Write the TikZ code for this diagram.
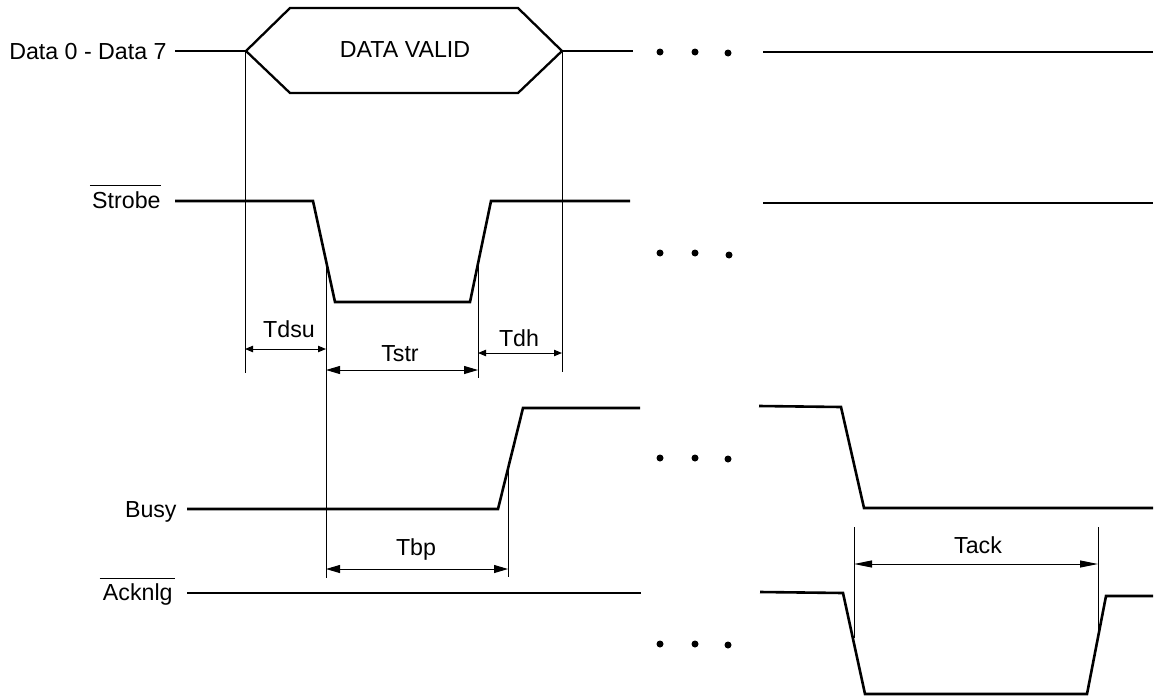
\documentclass[tikz,border=0pt]{standalone}
\usepackage{fontspec}
\setmainfont{Liberation Sans}
\usetikzlibrary{arrows.meta}
\begin{document}
\begin{tikzpicture}[x=0.5pt,y=-0.5pt,
  sig/.style={line width=1.3pt,line join=miter,line cap=butt},
  hexa/.style={line width=1.15pt,line join=miter},
  guide/.style={line width=0.5pt},
  lbl/.style={inner sep=0pt,font=\fontsize{11.6}{14}\selectfont},
  dimbig/.style={guide,{Triangle[length=7pt,width=4pt]}-{Triangle[length=7pt,width=4pt]}},
  dimsmall/.style={guide,{Triangle[length=4pt,width=3.2pt]}-{Triangle[length=4pt,width=3.2pt]}},
  dimlong/.style={guide,{Triangle[length=9pt,width=3.5pt]}-{Triangle[length=9pt,width=3.5pt]}},
  dotmark/.style={circle,fill=black,inner sep=0pt,minimum size=3.5pt}]
\useasboundingbox (0,0) rectangle (1155,696);

% ---- labels ----
\node[lbl,anchor=base east] (ldata) at (167,59) {Data 0 - Data 7};
\node[lbl,anchor=base east] (lstrobe) at (161,208) {Strobe};
\node[lbl,anchor=base east] (lbusy) at (177,517) {Busy};
\node[lbl,anchor=base east] (lack) at (173,600) {Acknlg};
\draw[guide] ([shift={(-1pt,2.4pt)}]lstrobe.north west) -- ([shift={(0pt,2.4pt)}]lstrobe.north east);
\draw[guide] ([shift={(-1.5pt,2pt)}]lack.north west) -- ([shift={(1pt,2pt)}]lack.north east);

% ---- Data ----
\draw[sig] (175,51) -- (246,51);
\draw[hexa] (246,51) -- (290,8) -- (518,8) -- (562,51) -- (518,93) -- (290,93) -- cycle;
\node[lbl,anchor=base] (dv) at (405,57) {DATA VALID};
\draw[sig] (562,51) -- (633,51);
\draw[sig] (763,52) -- (1153,52);
\node[dotmark] (dd1) at (660,52) {};
\node[dotmark] (dd2) at (695,52) {};
\node[dotmark] (dd3) at (728,53) {};

% ---- Strobe ----
\draw[sig] (175,201) -- (313,201) -- (335,302) -- (470,302) -- (491,201) -- (630,201);
\draw[sig] (763,203) -- (1153,203);
\node[dotmark] (sd1) at (660,253) {};
\node[dotmark] (sd2) at (695,253) {};
\node[dotmark] (sd3) at (729,255) {};

% ---- Busy ----
\draw[sig] (187,509) -- (498,509) -- (523,408) -- (640,408);
\draw[sig] (759,406) -- (841,407) -- (864,508) -- (1153,508);
\node[dotmark] (bd1) at (660,458) {};
\node[dotmark] (bd2) at (695,458) {};
\node[dotmark] (bd3) at (728,459) {};

% ---- Acknlg ----
\draw[sig] (187,593) -- (641,593);
\draw[sig] (760,592) -- (843,593) -- (865,694) -- (1087,694) -- (1106,596) -- (1153,596);
\node[dotmark] (ad1) at (660,644) {};
\node[dotmark] (ad2) at (695,644) {};
\node[dotmark] (ad3) at (728,645) {};

% ---- guide lines ----
\coordinate (ga1) at (245,51);  \coordinate (ga2) at (245,373);
\coordinate (gb1) at (562,51);  \coordinate (gb2) at (562,372);
\coordinate (gc1) at (326,259); \coordinate (gc2) at (326,578);
\coordinate (gd1) at (478,262); \coordinate (gd2) at (478,378);
\coordinate (ge1) at (508,468); \coordinate (ge2) at (508,577);
\coordinate (gf1) at (854,527); \coordinate (gf2) at (854,638);
\coordinate (gg1) at (1098,527); \coordinate (gg2) at (1098,637);
\draw[guide] (ga1) -- (ga2);
\draw[guide] (gb1) -- (gb2);
\draw[guide] (gc1) -- (gc2);
\draw[guide] (gd1) -- (gd2);
\draw[guide] (ge1) -- (ge2);
\draw[guide] (gf1) -- (gf2);
\draw[guide] (gg1) -- (gg2);

% ---- dimensions ----
\draw[dimsmall] (245,349) -- (326,349);
\node[lbl,anchor=base] (tdsu) at (289,337) {Tdsu};
\draw[dimbig] (326,370) -- (478,370);
\node[lbl,anchor=base] (tstr) at (400,361) {Tstr};
\draw[dimsmall] (478,353) -- (562,353);
\node[lbl,anchor=base] (tdh) at (519,346) {Tdh};
\draw[dimbig] (326,569) -- (508,569);
\node[lbl,anchor=base] (tbp) at (416,555) {Tbp};
\draw[dimlong] (854,564) -- (1098,564);
\node[lbl,anchor=base] (tack) at (978,553) {Tack};
\end{tikzpicture}
\end{document}
